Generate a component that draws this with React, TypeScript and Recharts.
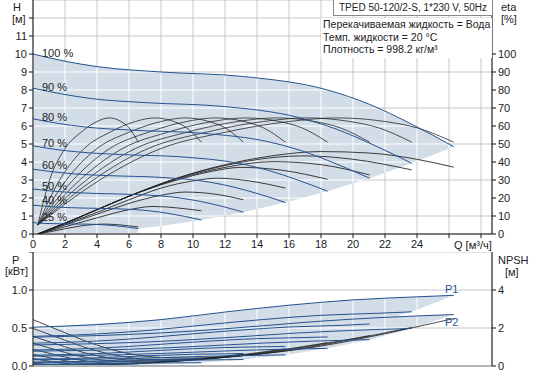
import { ComposedChart, Line, Area, XAxis, YAxis, CartesianGrid } from "recharts";

// ---------------------------------------------------------------------------
// Data. Each curve is a list of [Q m³/h, value].
// Order of speeds: 100, 90, 80, 70, 60, 50, 40, 25 %
// ---------------------------------------------------------------------------

type Pt = [number, number];

const SPEED_LABELS = ["100 %", "90 %", "80 %", "70 %", "60 %", "50 %", "40 %", "25 %"];

// H [m]
const HEAD: Pt[][] = [
  [[0, 10], [2, 9.6], [4, 9.3], [8, 9.0], [13.15, 8.75], [18.41, 8.0], [21.04, 7.2], [23.67, 6.1], [26.3, 4.85]],
  [[0, 8.1], [1.8, 7.78], [3.6, 7.53], [7.2, 7.29], [11.84, 7.09], [16.57, 6.48], [18.94, 5.83], [21.3, 4.94], [23.67, 3.93]],
  [[0, 6.4], [1.6, 6.14], [3.2, 5.95], [6.4, 5.76], [10.52, 5.6], [14.73, 5.12], [16.83, 4.61], [18.94, 3.9], [21.04, 3.1]],
  [[0, 4.9], [1.4, 4.7], [2.8, 4.56], [5.6, 4.41], [9.2, 4.29], [12.89, 3.92], [14.73, 3.53], [16.57, 2.99], [18.41, 2.38]],
  [[0, 3.6], [1.2, 3.46], [2.4, 3.35], [4.8, 3.24], [7.89, 3.15], [11.05, 2.88], [12.62, 2.59], [14.2, 2.2], [15.78, 1.75]],
  [[0, 2.5], [1, 2.4], [2, 2.33], [4, 2.25], [6.58, 2.19], [9.2, 2.0], [10.52, 1.8], [11.84, 1.53], [13.15, 1.21]],
  [[0, 1.6], [0.8, 1.54], [1.6, 1.49], [3.2, 1.44], [5.26, 1.4], [7.36, 1.28], [8.42, 1.15], [9.47, 0.98], [10.52, 0.78]],
  [[0, 0.63], [0.5, 0.6], [1, 0.58], [2, 0.56], [3.29, 0.55], [4.6, 0.5], [5.26, 0.45], [5.92, 0.38], [6.58, 0.3]],
];

// operating range (shaded) in the H chart
const RANGE_Q = [0, 2, 4, 6.5, 6.58, 8, 10.52, 13.15, 15.78, 18.41, 21.04, 23.67, 26.3];
const RANGE_H_LO = [0, 0, 0, 0, 0.3, 0.45, 0.78, 1.21, 1.75, 2.38, 3.1, 3.93, 4.85];
const RANGE_H_HI = [10, 9.6, 9.3, 9.08, 9.07, 9.0, 8.88, 8.75, 8.48, 8.0, 7.2, 6.1, 4.85];

// eta pump [%]
const ETA_PUMP: Pt[][] = [
  [[0.3, 5], [4, 29], [8, 47.5], [12, 56.5], [16, 62.5], [19, 64.5], [22, 62.5], [24, 59], [26.3, 51]],
  [[0.3, 5], [3.6, 29], [7.2, 47.5], [10.8, 56.5], [14.4, 62.5], [17.1, 64.5], [19.8, 62.5], [21.6, 59], [23.67, 51]],
  [[0.3, 5], [3.2, 29], [6.4, 47.5], [9.6, 56.5], [12.8, 62.5], [15.2, 64.5], [17.6, 62.5], [19.2, 59], [21.04, 51]],
  [[0.3, 5], [2.8, 29], [5.6, 47.5], [8.4, 56.5], [11.2, 62.5], [13.3, 64.5], [15.4, 62.5], [16.8, 59], [18.41, 51]],
  [[0.3, 5], [2.4, 29], [4.8, 47.5], [7.2, 56.5], [9.6, 62.5], [11.4, 64.5], [13.2, 62.5], [14.4, 59], [15.78, 51]],
  [[0.3, 5], [2, 29], [4, 47.5], [6, 56.5], [8, 62.5], [9.5, 64.5], [11, 62.5], [12, 59], [13.15, 51]],
  [[0.3, 5], [1.6, 29], [3.2, 47.5], [4.8, 56.5], [6.4, 62.5], [7.6, 64.5], [8.8, 62.5], [9.6, 59], [10.52, 51]],
  [[0.3, 5], [1, 29], [2, 47.5], [3, 56.5], [4, 62.5], [4.75, 64.5], [5.5, 62.5], [6, 59], [6.58, 51]],
];

// eta total [%]
const ETA_TOTAL: Pt[][] = [
  [[0.3, 0], [2, 6], [4, 13.5], [6, 21], [9, 31], [12, 38.5], [15, 43.5], [18, 45.8], [21, 45], [24, 41.5], [26.3, 37.1]],
  [[0.3, 0], [2, 6], [4, 13.5], [6, 21], [9, 31], [12, 38], [15, 42.5], [17, 43.4], [20, 41.5], [23.67, 35.6]],
  [[0.3, 0], [2, 6], [4, 13.5], [6, 21], [9, 30.5], [12, 37], [15, 40.2], [18, 38.5], [21.04, 32.8]],
  [[0.3, 0], [2, 6], [4, 13.5], [6, 21], [9, 30], [11, 34.5], [13, 37], [15.5, 35.5], [18.41, 30.4]],
  [[0.3, 0], [2, 5.5], [4, 12], [6, 19], [8, 25.5], [10, 29.5], [11.5, 31], [13.5, 29.5], [15.78, 25.5]],
  [[0.3, 0], [2, 5], [4, 11], [6, 17], [8, 21.5], [9.5, 23.3], [11.5, 22], [13.15, 19]],
  [[0.3, 0], [2, 4], [4, 9], [6, 13.5], [7.5, 15.3], [9, 14.5], [10.52, 12.9]],
  [[0.3, 0], [1.5, 2], [3, 4.5], [4.5, 5.5], [5.5, 5], [6.58, 3.9]],
];

// P1 [kW]
const POWER_P1: Pt[][] = [
  [[0, 0.51], [4, 0.545], [8, 0.61], [12, 0.71], [16, 0.8], [20, 0.87], [24, 0.91], [26.3, 0.93]],
  [[0, 0.39], [3.6, 0.417], [7.2, 0.468], [10.8, 0.542], [14.4, 0.612], [18, 0.667], [21.6, 0.694], [23.67, 0.713]],
  [[0, 0.3], [3.2, 0.32], [6.4, 0.36], [9.6, 0.417], [12.8, 0.47], [16, 0.513], [19.2, 0.534], [21.04, 0.553]],
  [[0, 0.21], [2.8, 0.225], [5.6, 0.252], [8.4, 0.292], [11.2, 0.33], [14, 0.36], [16.8, 0.374], [18.41, 0.382]],
  [[0, 0.142], [2.4, 0.152], [4.8, 0.17], [7.2, 0.197], [9.6, 0.223], [12, 0.243], [14.4, 0.253], [15.78, 0.258]],
  [[0, 0.09], [2, 0.096], [4, 0.108], [6, 0.125], [8, 0.141], [10, 0.154], [12, 0.16], [13.15, 0.164]],
  [[0, 0.052], [1.6, 0.056], [3.2, 0.062], [4.8, 0.072], [6.4, 0.082], [8, 0.089], [9.6, 0.093], [10.52, 0.095]],
  [[0, 0.016], [1, 0.017], [2, 0.019], [3, 0.022], [4, 0.025], [5, 0.027], [6, 0.028], [6.58, 0.029]],
];

// P2 [kW]
const POWER_P2: Pt[][] = [
  [[0, 0.38], [4, 0.4], [8, 0.435], [12, 0.49], [14.4, 0.53], [18, 0.59], [22, 0.64], [26.3, 0.677]],
  [[0, 0.277], [3.6, 0.292], [7.2, 0.317], [10.8, 0.357], [13, 0.386], [16.2, 0.43], [19.8, 0.467], [23.67, 0.494]],
  [[0, 0.195], [3.2, 0.205], [6.4, 0.223], [9.6, 0.251], [11.5, 0.271], [14.4, 0.302], [17.6, 0.328], [21.04, 0.347]],
  [[0, 0.13], [2.8, 0.137], [5.6, 0.149], [8.4, 0.168], [10.1, 0.182], [12.6, 0.202], [15.4, 0.22], [18.41, 0.232]],
  [[0, 0.082], [2.4, 0.086], [4.8, 0.094], [7.2, 0.106], [8.64, 0.114], [10.8, 0.127], [13.2, 0.138], [15.78, 0.146]],
  [[0, 0.048], [2, 0.05], [4, 0.054], [6, 0.061], [7.2, 0.066], [9, 0.074], [11, 0.08], [13.15, 0.085]],
  [[0, 0.024], [1.6, 0.026], [3.2, 0.028], [4.8, 0.031], [5.76, 0.034], [7.2, 0.038], [8.8, 0.041], [10.52, 0.043]],
  [[0, 0.006], [1, 0.006], [2, 0.007], [3, 0.008], [3.6, 0.008], [4.5, 0.009], [5.5, 0.01], [6.58, 0.011]],
];

// shaded ranges in the power chart
const PWR_Q = [0, 6.58, 10.52, 13.15, 15.78, 18.41, 21.04, 23.67, 26.3];
const P1_LO = [0, 0.029, 0.095, 0.164, 0.258, 0.382, 0.553, 0.713, 0.93];
const P1_HI = [0.51, 0.585, 0.665, 0.735, 0.795, 0.845, 0.88, 0.908, 0.93];
const P2_LO = [0, 0.011, 0.043, 0.085, 0.146, 0.232, 0.347, 0.494, 0.677];
const P2_HI = [0.38, 0.42, 0.465, 0.51, 0.555, 0.595, 0.63, 0.655, 0.677];

// NPSH [m]
const NPSH: Pt[][] = [
  [[0, 2.44], [2, 1.75], [4, 1.1], [6, 0.65], [8, 0.45], [10, 0.42], [14, 0.62], [18, 1.05], [22, 1.7], [26.3, 2.5]],
  [[0, 1.98], [1.8, 1.42], [3.6, 0.89], [5.4, 0.53], [7.2, 0.36], [9, 0.34], [12.6, 0.5], [16.2, 0.85], [19.8, 1.38], [23.67, 2.03]],
  [[0, 1.56], [1.6, 1.12], [3.2, 0.7], [4.8, 0.42], [6.4, 0.29], [8, 0.27], [11.2, 0.4], [14.4, 0.67], [17.6, 1.09], [21.04, 1.6]],
  [[0, 1.2], [1.4, 0.86], [2.8, 0.54], [4.2, 0.32], [5.6, 0.22], [7, 0.21], [9.8, 0.3], [12.6, 0.51], [15.4, 0.83], [18.41, 1.23]],
  [[0, 0.88], [1.2, 0.63], [2.4, 0.4], [3.6, 0.23], [4.8, 0.16], [6, 0.15], [8.4, 0.22], [10.8, 0.38], [13.2, 0.61], [15.78, 0.9]],
  [[0, 0.61], [1, 0.44], [2, 0.28], [3, 0.16], [4, 0.11], [5, 0.1], [7, 0.16], [9, 0.26], [11, 0.43], [13.15, 0.63]],
  [[0, 0.39], [0.8, 0.28], [1.6, 0.18], [2.4, 0.1], [3.2, 0.07], [4, 0.07], [5.6, 0.1], [7.2, 0.17], [8.8, 0.27], [10.52, 0.4]],
  [[0, 0.15], [0.5, 0.11], [1, 0.07], [1.5, 0.04], [2, 0.03], [2.5, 0.03], [3.5, 0.04], [4.5, 0.07], [5.5, 0.11], [6.58, 0.16]],
];

const Q_TICKS = [0, 2, 4, 6, 8, 10, 12, 14, 16, 18, 20, 22, 24, 26, 28];
const H_TICKS = [0, 1, 2, 3, 4, 5, 6, 7, 8, 9, 10, 11, 12];
const ETA_TICKS = [0, 10, 20, 30, 40, 50, 60, 70, 80, 90, 100];
const P_TICKS = [0, 0.5, 1, 1.5];
const NPSH_TICKS = [0, 2, 4];

// ---------------------------------------------------------------------------
// Styles
// ---------------------------------------------------------------------------

const FONT = "'Liberation Sans', Arial, sans-serif";
const BLUE = "#24528f";
const DARK = "#1e1e1e";
const FILL = "#d3dde8";
const GRID = "#c8c8c8";
const Q_MAX = 28.6875;

const tickStyle = { fontSize: 11, fill: "#222", fontFamily: FONT };

const toRows = (pts: Pt[]) => pts.map(([q, v]) => ({ q, v }));
const toRange = (qs: number[], lo: number[], hi: number[]) =>
  qs.map((q, i) => ({ q, range: [lo[i], hi[i]] }));

function curveLines(curves: Pt[][], axisId: string, stroke: string, prefix: string, opacity = 1) {
  return curves.map((c, i) => (
    <Line
      key={prefix + i}
      data={toRows(c)}
      dataKey="v"
      yAxisId={axisId}
      type="monotone"
      stroke={stroke}
      strokeOpacity={opacity}
      strokeWidth={1}
      dot={false}
      activeDot={false}
      isAnimationActive={false}
    />
  ));
}

function Txt({ x, y, children, color = "#222", size = 11 }: { x: number; y: number; children: React.ReactNode; color?: string; size?: number }) {
  return (
    <div style={{ position: "absolute", left: x, top: y, fontSize: size, lineHeight: "12px", color, whiteSpace: "nowrap" }}>
      {children}
    </div>
  );
}

// ---------------------------------------------------------------------------
// Component
// ---------------------------------------------------------------------------

export default function App() {
  const labelY = [47, 81, 111, 137, 159, 180, 194, 211];

  return (
    <div style={{ position: "absolute", left: 0, top: 0, width: 533, height: 375, background: "#fff", fontFamily: FONT, overflow: "hidden" }}>
      {/* H / eta chart */}
      <div style={{ position: "absolute", left: 0, top: 0 }}>
        <ComposedChart width={533} height={252} margin={{ top: 0, right: 0, bottom: 0, left: 0 }}>
          <defs>
            <pattern id="topFill" patternUnits="userSpaceOnUse" x={32.5} y={-0.5} width={32} height={18}>
              <rect x={0} y={0} width={32} height={18} fill={FILL} />
              <rect x={0} y={0} width={1} height={18} fill="#fff" />
              <rect x={0} y={0} width={32} height={1} fill="#fff" />
            </pattern>
          </defs>
          <CartesianGrid yAxisId="h" stroke={GRID} strokeWidth={1} />
          <XAxis
            dataKey="q"
            type="number"
            domain={[0, Q_MAX]}
            ticks={Q_TICKS}
            tickFormatter={(v: number) => (v > 24 ? "" : String(v))}
            height={18}
            tick={tickStyle}
            tickSize={4}
            tickMargin={2}
            stroke="#111"
            allowDataOverflow
          />
          <YAxis
            yAxisId="h"
            width={33}
            domain={[0, 13]}
            ticks={H_TICKS}
            tickFormatter={(v: number) => (v > 11 ? "" : String(v))}
            tick={tickStyle}
            tickSize={4}
            tickMargin={2}
            stroke="#111"
            allowDataOverflow
          />
          <YAxis yAxisId="eta" orientation="right" width={41} domain={[0, 130]} ticks={ETA_TICKS} tick={tickStyle} tickSize={4} tickMargin={2} stroke="#111" allowDataOverflow />
          <Area
            data={toRange(RANGE_Q, RANGE_H_LO, RANGE_H_HI)}
            dataKey="range"
            yAxisId="h"
            type="linear"
            stroke="none"
            fill="url(#topFill)"
            fillOpacity={1}
            dot={false}
            activeDot={false}
            isAnimationActive={false}
          />
          {curveLines(ETA_TOTAL, "eta", DARK, "et", 0.85)}
          {curveLines(ETA_PUMP, "eta", DARK, "ep", 0.75)}
          {curveLines(HEAD, "h", BLUE, "h")}
        </ComposedChart>
      </div>

      {/* P / NPSH chart */}
      <div style={{ position: "absolute", left: 0, top: 252 }}>
        <ComposedChart width={533} height={123} margin={{ top: 0, right: 0, bottom: 0, left: 0 }}>
          <defs>
            <pattern id="botFill" patternUnits="userSpaceOnUse" x={32.5} y={-0.5} width={32} height={38}>
              <rect x={0} y={0} width={32} height={38} fill={FILL} />
              <rect x={0} y={0} width={1} height={38} fill="#fff" />
              <rect x={0} y={0} width={32} height={1} fill="#fff" />
            </pattern>
          </defs>
          <CartesianGrid yAxisId="p" stroke={GRID} strokeWidth={1} />
          <XAxis dataKey="q" type="number" domain={[0, Q_MAX]} ticks={Q_TICKS} tick={false} tickLine={false} height={9} axisLine={{ stroke: "#b4b4b4", strokeWidth: 2 }} allowDataOverflow />
          <YAxis
            yAxisId="p"
            width={33}
            domain={[0, 1.5]}
            ticks={P_TICKS}
            tickFormatter={(v: number) => (v > 1.2 ? "" : v.toFixed(1))}
            tick={tickStyle}
            tickSize={4}
            tickMargin={2}
            stroke="#111"
            allowDataOverflow
          />
          <YAxis yAxisId="npsh" orientation="right" width={41} domain={[0, 6]} ticks={NPSH_TICKS} tick={tickStyle} tickSize={4} tickMargin={2} stroke="#111" allowDataOverflow />
          <Area data={toRange(PWR_Q, P1_LO, P1_HI)} dataKey="range" yAxisId="p" type="linear" stroke="none" fill="url(#botFill)" fillOpacity={1} activeDot={false} isAnimationActive={false} />
          <Area data={toRange(PWR_Q, P2_LO, P2_HI)} dataKey="range" yAxisId="p" type="linear" stroke="none" fill="url(#botFill)" fillOpacity={1} activeDot={false} isAnimationActive={false} />
          {curveLines(NPSH, "npsh", DARK, "n", 0.8)}
          {curveLines(POWER_P2, "p", BLUE, "p2")}
          {curveLines(POWER_P1, "p", BLUE, "p1")}
        </ComposedChart>
      </div>

      {/* speed labels */}
      {SPEED_LABELS.map((s, i) => (
        <Txt key={s} x={42} y={labelY[i]}>{s}</Txt>
      ))}

      {/* axis captions */}
      <Txt x={13} y={1}>H</Txt>
      <Txt x={12} y={13}>[м]</Txt>
      <Txt x={501} y={1}>eta</Txt>
      <Txt x={501} y={13}>[%]</Txt>
      <Txt x={454} y={239}>Q [м³/ч]</Txt>
      <Txt x={12} y={254}>P</Txt>
      <Txt x={5} y={265}>[кВт]</Txt>
      <Txt x={498} y={254}>NPSH</Txt>
      <Txt x={505} y={266}>[м]</Txt>
      <Txt x={445} y={283} color={BLUE}>P1</Txt>
      <Txt x={445} y={316} color={BLUE}>P2</Txt>

      {/* title box */}
      <div style={{ position: "absolute", left: 333, top: -1, width: 158, height: 15, border: "1px solid #888", background: "#fff", fontSize: 10, lineHeight: "15px", textAlign: "center", color: "#222", whiteSpace: "nowrap", overflow: "hidden" }}>
        TPED 50-120/2-S, 1*230 V, 50Hz
      </div>

      {/* liquid info */}
      <div style={{ position: "absolute", left: 321, top: 18, width: 169, height: 40, background: "#fff", fontSize: 10.5, lineHeight: "12.5px", color: "#222", paddingLeft: 2, whiteSpace: "nowrap" }}>
        <div>Перекачиваемая жидкость = Вода</div>
        <div>Темп. жидкости = 20 °C</div>
        <div>Плотность = 998.2 кг/м³</div>
      </div>
    </div>
  );
}
